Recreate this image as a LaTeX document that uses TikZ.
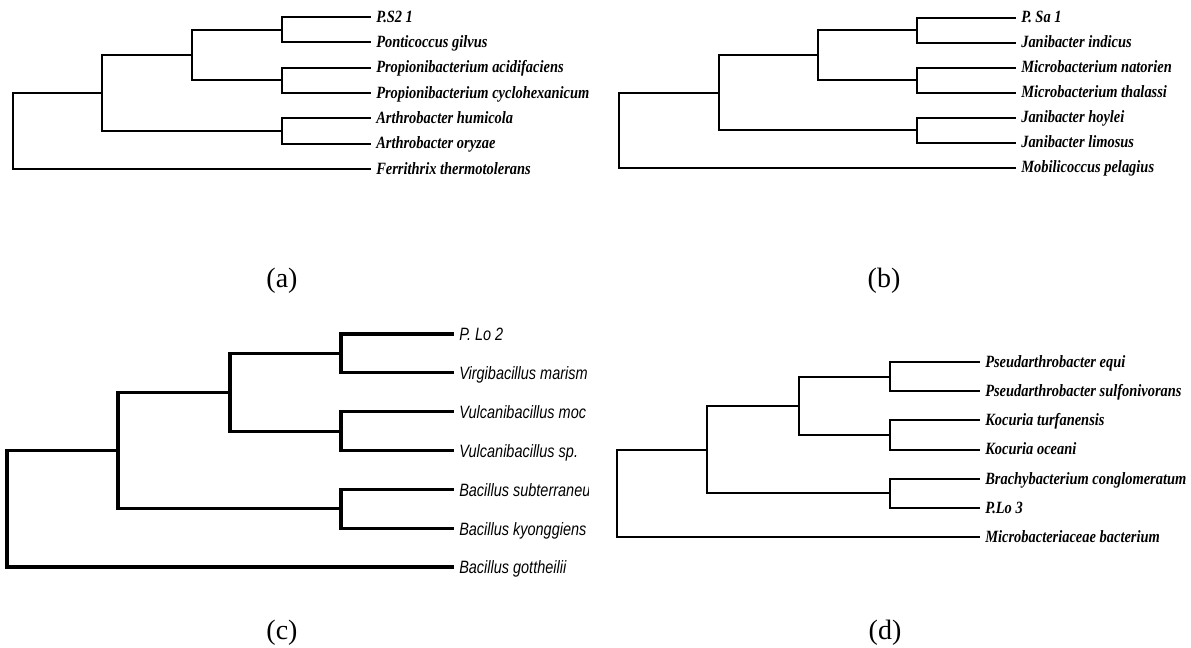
\documentclass[tikz,border=0pt]{standalone}
\usepackage{fontspec}
\setmainfont{Liberation Serif}
\newfontfamily\serlab[FakeStretch=0.84]{Liberation Serif}
\newfontfamily\sanlab[FakeStretch=0.81]{Liberation Sans}
\tikzset{
  br/.style={line width=1.5pt, line join=miter},
  brc/.style={line width=2.3pt, line join=miter},
  slab/.style={anchor=base west, inner sep=0pt, font=\serlab\bfseries\itshape\fontsize{12.9}{15}\selectfont},
  clab/.style={anchor=base west, inner sep=0pt, font=\sanlab\itshape\fontsize{13.4}{16}\selectfont},
  plab/.style={inner sep=0pt, font=\fontsize{21}{25}\selectfont}
}
\begin{document}
\begin{tikzpicture}[x=0.75pt,y=-0.75pt]
\useasboundingbox (0,0) rectangle (1191,647);
% ---------------- panel (a)
\begin{scope}
\clip (0,0) rectangle (588,300);
\coordinate (aR) at (13,130.85);
\coordinate (aA) at (102,92.9);
\coordinate (aB) at (192,54.95);
\coordinate (aP1) at (282,29.65);
\coordinate (aP2) at (282,80.25);
\coordinate (aP3) at (282,130.85);
\coordinate (a1) at (371,17);
\coordinate (a2) at (371,42.3);
\coordinate (a3) at (371,67.6);
\coordinate (a4) at (371,92.9);
\coordinate (a5) at (371,118.2);
\coordinate (a6) at (371,143.5);
\coordinate (a7) at (371,168.8);
\draw[br] (aR) |- (aA);  \draw[br] (aR) |- (a7);
\draw[br] (aA) |- (aB);  \draw[br] (aA) |- (aP3);
\draw[br] (aB) |- (aP1); \draw[br] (aB) |- (aP2);
\draw[br] (aP1) |- (a1); \draw[br] (aP1) |- (a2);
\draw[br] (aP2) |- (a3); \draw[br] (aP2) |- (a4);
\draw[br] (aP3) |- (a5); \draw[br] (aP3) |- (a6);
\node[slab] (ta1) at (376,22.3) {P.S2 1};
\node[slab] (ta2) at (376,47.6) {Ponticoccus gilvus};
\node[slab] (ta3) at (376,72.9) {Propionibacterium acidifaciens};
\node[slab] (ta4) at (376,98.2) {Propionibacterium cyclohexanicum};
\node[slab] (ta5) at (376,123.5) {Arthrobacter humicola};
\node[slab] (ta6) at (376,148.8) {Arthrobacter oryzae};
\node[slab] (ta7) at (376,174.1) {Ferrithrix thermotolerans};
\end{scope}
% ---------------- panel (b)
\begin{scope}
\clip (600,0) rectangle (1186,300);
\coordinate (bR) at (619,130);
\coordinate (bA) at (719,92.5);
\coordinate (bB) at (818,55);
\coordinate (bP1) at (917,30);
\coordinate (bP2) at (917,80);
\coordinate (bP3) at (917,130);
\coordinate (b1) at (1016,17.5);
\coordinate (b2) at (1016,42.5);
\coordinate (b3) at (1016,67.5);
\coordinate (b4) at (1016,92.5);
\coordinate (b5) at (1016,117.5);
\coordinate (b6) at (1016,142.5);
\coordinate (b7) at (1016,167.5);
\draw[br] (bR) |- (bA);  \draw[br] (bR) |- (b7);
\draw[br] (bA) |- (bB);  \draw[br] (bA) |- (bP3);
\draw[br] (bB) |- (bP1); \draw[br] (bB) |- (bP2);
\draw[br] (bP1) |- (b1); \draw[br] (bP1) |- (b2);
\draw[br] (bP2) |- (b3); \draw[br] (bP2) |- (b4);
\draw[br] (bP3) |- (b5); \draw[br] (bP3) |- (b6);
\node[slab] (tb1) at (1021,22.8) {P. Sa 1};
\node[slab] (tb2) at (1021,47.8) {Janibacter indicus};
\node[slab] (tb3) at (1021,72.8) {Microbacterium natorien};
\node[slab] (tb4) at (1021,97.8) {Microbacterium thalassi};
\node[slab] (tb5) at (1021,122.8) {Janibacter hoylei};
\node[slab] (tb6) at (1021,147.8) {Janibacter limosus};
\node[slab] (tb7) at (1021,172.8) {Mobilicoccus pelagius};
\end{scope}
% ---------------- panel (c)
\begin{scope}
\clip (0,310) rectangle (588,600);
\coordinate (cR) at (7,508.75);
\coordinate (cA) at (118,450.5);
\coordinate (cB) at (230,392.25);
\coordinate (cP1) at (341,353.4);
\coordinate (cP2) at (341,431.1);
\coordinate (cP3) at (341,508.75);
\coordinate (c1) at (454,334);
\coordinate (c2) at (454,372.8);
\coordinate (c3) at (454,411.7);
\coordinate (c4) at (454,450.5);
\coordinate (c5) at (454,489.3);
\coordinate (c6) at (454,528.2);
\coordinate (c7) at (454,567);
\draw[brc] (cR) |- (cA);  \draw[brc] (cR) |- (c7);
\draw[brc] (cA) |- (cB);  \draw[brc] (cA) |- (cP3);
\draw[brc] (cB) |- (cP1); \draw[brc] (cB) |- (cP2);
\draw[brc] (cP1) |- (c1); \draw[brc] (cP1) |- (c2);
\draw[brc] (cP2) |- (c3); \draw[brc] (cP2) |- (c4);
\draw[brc] (cP3) |- (c5); \draw[brc] (cP3) |- (c6);
\node[clab] (tc1) at (459,340.8) {P. Lo 2};
\node[clab] (tc2) at (459,379.6) {Virgibacillus marism};
\node[clab] (tc3) at (459,418.5) {Vulcanibacillus moc};
\node[clab] (tc4) at (459,457.3) {Vulcanibacillus sp.};
\node[clab] (tc5) at (459,496.1) {Bacillus subterraneu};
\node[clab] (tc6) at (459,535) {Bacillus kyonggiens};
\node[clab] (tc7) at (459,573.8) {Bacillus gottheilii};
\end{scope}
% ---------------- panel (d)
\begin{scope}
\clip (600,310) rectangle (1186,600);
\coordinate (dR) at (617,493.25);
\coordinate (dA) at (707,449.5);
\coordinate (dB) at (799,405.75);
\coordinate (dP1) at (890,376.6);
\coordinate (dP2) at (890,434.9);
\coordinate (dP3) at (890,493.25);
\coordinate (d1) at (980,362);
\coordinate (d2) at (980,391.2);
\coordinate (d3) at (980,420.3);
\coordinate (d4) at (980,449.5);
\coordinate (d5) at (980,478.7);
\coordinate (d6) at (980,507.8);
\coordinate (d7) at (980,537);
\draw[br] (dR) |- (dA);  \draw[br] (dR) |- (d7);
\draw[br] (dA) |- (dB);  \draw[br] (dA) |- (dP3);
\draw[br] (dB) |- (dP1); \draw[br] (dB) |- (dP2);
\draw[br] (dP1) |- (d1); \draw[br] (dP1) |- (d2);
\draw[br] (dP2) |- (d3); \draw[br] (dP2) |- (d4);
\draw[br] (dP3) |- (d5); \draw[br] (dP3) |- (d6);
\node[slab] (td1) at (985,367.3) {Pseudarthrobacter equi};
\node[slab] (td2) at (985,396.5) {Pseudarthrobacter sulfonivorans};
\node[slab] (td3) at (985,425.6) {Kocuria turfanensis};
\node[slab] (td4) at (985,454.8) {Kocuria oceani};
\node[slab] (td5) at (985,484) {Brachybacterium conglomeratum};
\node[slab] (td6) at (985,513.1) {P.Lo 3};
\node[slab] (td7) at (985,542.3) {Microbacteriaceae bacterium};
\end{scope}
% ---------------- panel captions
\node[plab] (la) at (282,281) {(a)};
\node[plab] (lb) at (884,281) {(b)};
\node[plab] (lc) at (282,633) {(c)};
\node[plab] (ld) at (885,633) {(d)};
\end{tikzpicture}
\end{document}
